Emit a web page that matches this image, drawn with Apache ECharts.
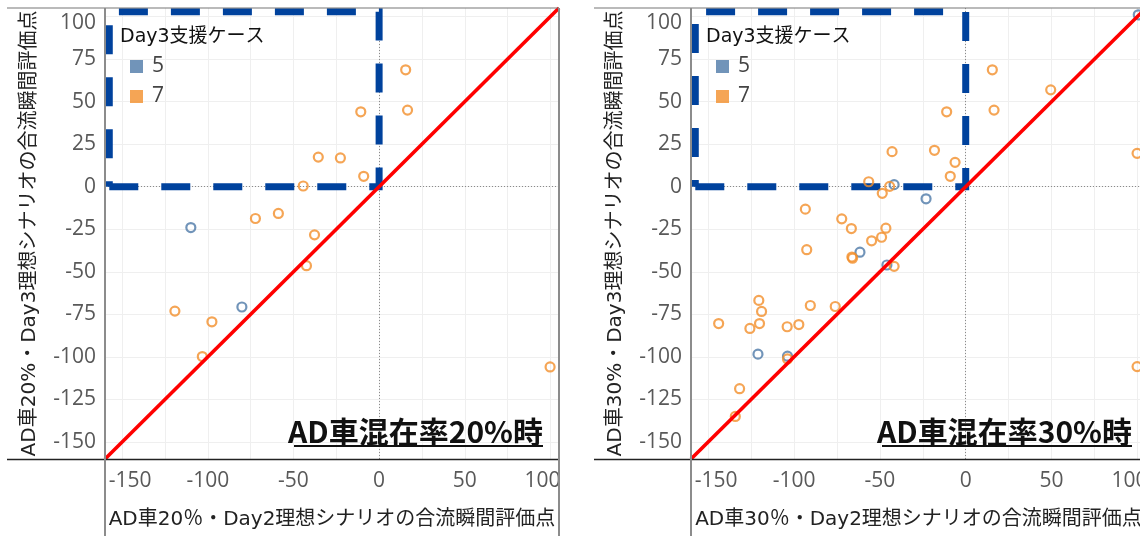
<!DOCTYPE html>
<html>
<head>
<meta charset="utf-8">
<script src="https://cdn.jsdelivr.net/npm/echarts@6/dist/echarts.min.js"></script>
<style>
  html, body { margin: 0; padding: 0; background: #fff; }
  #chart { width: 1140px; height: 536px; }
</style>
</head>
<body>
<div id="chart"></div>
<script>
// AD車混在率 20% / 30% 時の Day2 vs Day3 合流瞬間評価点（散布図 2 面）

// 20% 時
const case5_20_x = [-109.9, -80.1];
const case5_20_y = [-24.0, -70.7];
const case7_20_x = [15.5, 16.6, -10.7, -35.5, -22.6, -9.0, -44.3, -72.2, -58.8, -37.7, -42.4, -119.2, -97.6, -103.2, 99.8];
const case7_20_y = [68.7, 45.0, 44.0, 17.4, 16.9, 6.1, 0.4, -18.7, -15.7, -28.3, -46.4, -73.1, -79.4, -99.8, -105.9];

// 30% 時
const case5_30_x = [100.5, -41.7, -23.1, -61.6, -45.9, -121.0, -103.8];
const case5_30_y = [101.0, 1.2, -7.1, -38.5, -46.0, -98.4, -99.6];
const case7_30_x = [15.5, 16.5, -11.1, 49.5, 99.8, -42.9, -18.2, -6.2, -9.0, -56.5, -44.3, -48.6, -93.4, -72.2, -66.6,
  -46.5, -54.8, -49.0, -92.6, -66.3, -65.9, -41.7, -143.9, -120.5, -118.9, -120.1, -125.7, -104.0, -97.2, -90.5,
  -76.0, -103.8, -131.7, -134.2, 99.8];
const case7_30_y = [68.7, 45.0, 44.0, 56.9, 19.6, 20.6, 21.4, 14.3, 6.1, 2.9, 0.2, -3.9, -13.2, -18.9, -24.6,
  -24.4, -31.8, -29.7, -37.0, -41.3, -42.0, -46.8, -80.4, -66.8, -73.3, -80.4, -83.3, -82.3, -81.0, -69.8,
  -70.4, -101.2, -118.7, -135.0, -105.7];

// y = x の基準線、支援対象の破線枠
const diag_x = [-160, 105];
const diag_y = [-160, 105];
const box_x = [-157.5, 0, 0, -157.5, -157.5];
const box_y = [0, 0, 102.8, 102.8, 0];

// 目盛
const gridTicks = [-150, -125, -100, -75, -50, -25, 0, 25, 50, 75, 100];
const xTickLabels = [-150, -100, -50, 0, 50, 100];
const yTickLabels = [-150, -125, -100, -75, -50, -25, 0, 25, 50, 75, 100];

const BLUE = '#4e79a7';
const ORANGE = '#f28e2b';
const NAME_FONT = "'DejaVu Sans', 'Noto Sans CJK JP', sans-serif";
const TICK_FONT = "'Open Sans', sans-serif";
const tickText = { fontFamily: TICK_FONT, fontSize: 21, color: '#595959' };

const zip = (xs, ys) => xs.map((x, i) => [x, ys[i]]);

const panels = [
  {
    xName: 'AD車20％・Day2理想シナリオの合流瞬間評価点',
    yName: 'AD車20%・Day3理想シナリオの合流瞬間評価点',
    c5: zip(case5_20_x, case5_20_y),
    c7: zip(case7_20_x, case7_20_y),
  },
  {
    xName: 'AD車30％・Day2理想シナリオの合流瞬間評価点',
    yName: 'AD車30%・Day3理想シナリオの合流瞬間評価点',
    c5: zip(case5_30_x, case5_30_y),
    c7: zip(case7_30_x, case7_30_y),
  },
];

// 端の目盛ラベルは内側へ寄せる（Tableau と同じ見え方）
function xLabel(v) {
  if (!xTickLabels.includes(v)) return '';
  if (v === xTickLabels[0]) return '{l|' + v + '}';
  if (v === xTickLabels[xTickLabels.length - 1]) return '{r|' + v + '}';
  return String(v);
}

function yLabel(v) {
  if (!yTickLabels.includes(v)) return '';
  if (v === yTickLabels[yTickLabels.length - 1]) return '{t|' + v + '}';
  return String(v);
}

function xAxisFor(i, name) {
  return {
    type: 'value', gridIndex: i, min: -160, max: 105, interval: 5,
    name, nameLocation: 'middle', nameGap: 51,
    nameTextStyle: { fontFamily: NAME_FONT, fontSize: 20, color: '#222' },
    axisLine: { show: false }, axisTick: { show: false }, splitLine: { show: false },
    axisLabel: {
      margin: 12, ...tickText, formatter: xLabel,
      rich: {
        l: { ...tickText, padding: [0, 0, 0, 16] },
        r: { ...tickText, padding: [0, 16, 0, 0] },
      },
    },
  };
}

function yAxisFor(i, name) {
  return {
    type: 'value', gridIndex: i, min: -160, max: 105, interval: 5,
    name, nameLocation: 'middle', nameGap: 65,
    nameTextStyle: { fontFamily: NAME_FONT, fontSize: 20, color: '#222' },
    axisLine: { show: false }, axisTick: { show: false }, splitLine: { show: false },
    axisLabel: {
      margin: 9, ...tickText, formatter: yLabel,
      rich: { t: { ...tickText, padding: [14, 0, 0, 0] } },
    },
  };
}

function seriesFor(i, p) {
  const axes = { xAxisIndex: i, yAxisIndex: i };
  return [
    {
      // 目盛線（markLine は既定で z:5 なので明示的に下げる）
      ...axes, type: 'scatter', data: [], z: 1, silent: true,
      markLine: {
        z: 1, silent: true, symbol: ['none', 'none'], label: { show: false },
        lineStyle: { color: '#efefef', type: 'solid', width: 1 },
        data: gridTicks.map((v) => ({ xAxis: v })).concat(gridTicks.map((v) => ({ yAxis: v }))),
        animation: false,
      },
    },
    {
      ...axes, type: 'scatter', data: [], z: 2, silent: true,
      markLine: {
        z: 2, silent: true, symbol: ['none', 'none'], label: { show: false },
        lineStyle: { color: '#8a8a8a', type: [1, 2], width: 1 },
        data: [{ xAxis: 0 }, { yAxis: 0 }],
        animation: false,
      },
    },
    {
      ...axes, type: 'line', data: zip(box_x, box_y), z: 3, symbol: 'none', silent: true,
      lineStyle: { color: '#00429d', width: 7, type: [29, 23], cap: 'butt', join: 'miter' },
    },
    {
      ...axes, name: '5', type: 'scatter', data: p.c5, z: 4, symbol: 'circle', symbolSize: 9,
      itemStyle: { color: 'rgba(0,0,0,0)', borderColor: BLUE, borderWidth: 2.2 },
    },
    {
      ...axes, name: '7', type: 'scatter', data: p.c7, z: 4, symbol: 'circle', symbolSize: 9,
      itemStyle: { color: 'rgba(0,0,0,0)', borderColor: ORANGE, borderWidth: 2.2 },
    },
    {
      ...axes, type: 'line', data: zip(diag_x, diag_y), z: 5, symbol: 'none', silent: true,
      lineStyle: { color: '#ff0000', width: 3.6 },
    },
  ];
}

const legendData = [
  { name: '5', icon: 'rect', itemStyle: { color: BLUE, borderWidth: 0 } },
  { name: '7', icon: 'rect', itemStyle: { color: ORANGE, borderWidth: 0 } },
];

function legendFor(left) {
  return {
    left, top: 51, z: 8, orient: 'vertical', itemWidth: 13, itemHeight: 13, itemGap: 9,
    selectedMode: false, data: legendData,
    textStyle: { fontFamily: TICK_FONT, fontSize: 21, color: '#444', padding: [0, 0, 0, 4] },
  };
}

function line(x1, y1, x2, y2, stroke, lineWidth) {
  return { type: 'line', silent: true, z: 10, shape: { x1, y1, x2, y2 }, style: { stroke, lineWidth } };
}

function text(x, y, str, font, align) {
  return { type: 'text', silent: true, z: 10, x, y,
    style: { text: str, font, fill: '#111', align, verticalAlign: 'middle' } };
}

const chart = echarts.init(document.getElementById('chart'), null, { renderer: 'canvas' });

chart.setOption({
  backgroundColor: '#fff',
  animation: false,
  grid: [
    { left: 105, top: 8, width: 454, height: 451, outerBoundsMode: 'none' },
    { left: 691, top: 8, width: 455, height: 451, outerBoundsMode: 'none' },
  ],
  xAxis: panels.map((p, i) => xAxisFor(i, p.xName)),
  yAxis: panels.map((p, i) => yAxisFor(i, p.yName)),
  legend: [legendFor(125), legendFor(711)],
  series: panels.flatMap((p, i) => seriesFor(i, p)),
  graphic: [
    // 左パネル枠
    line(7, 8, 559, 8, '#777', 1.2),
    line(7, 459.5, 559, 459.5, '#222', 1.5),
    line(105, 8, 105, 536, '#8c8c8c', 2),
    line(559, 8, 559, 536, '#8c8c8c', 2),
    // 右パネル枠
    line(594, 8, 1140, 8, '#777', 1.2),
    line(594, 459.5, 1140, 459.5, '#222', 1.5),
    line(691, 8, 691, 536, '#8c8c8c', 2),
    // 凡例タイトル
    text(120, 37, 'Day3支援ケース', "19px 'DejaVu Sans', 'Noto Sans CJK JP'", 'left'),
    text(706, 37, 'Day3支援ケース', "19px 'DejaVu Sans', 'Noto Sans CJK JP'", 'left'),
    // 注記
    text(543, 432, 'AD車混在率20%時', "bold 30px 'Noto Sans CJK JP'", 'right'),
    line(294, 446, 543, 446, '#111', 2),
    text(1132, 432, 'AD車混在率30%時', "bold 30px 'Noto Sans CJK JP'", 'right'),
    line(882, 446, 1132, 446, '#111', 2),
  ],
});
</script>
</body>
</html>
